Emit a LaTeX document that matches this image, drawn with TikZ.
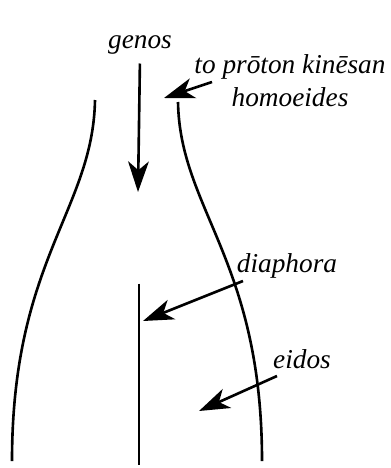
\documentclass[tikz,border=0pt]{standalone}
\usepackage{fontspec}
\setmainfont{Liberation Serif}
\usetikzlibrary{positioning, arrows.meta}

\begin{document}
\begin{tikzpicture}[
x=0.458pt, y=-0.458pt,
label/.style={font=\fontsize{12.5}{15}\selectfont\itshape, align=center, inner sep=1pt},
pointer/.style={-{Stealth[length=14pt, width=9.5pt, inset=4pt]}, line width=1.2pt},
wall/.style={line width=1.2pt}
]
\useasboundingbox (0,0) rectangle (390,468);

% the two outer walls
\draw[wall] (95,100) .. controls (93,210) and (12,260) .. (12,461);
\draw[wall] (178,102) .. controls (180,210) and (262,260) .. (262,461);

% division in the middle
\node[inner sep=0pt] (mtop) at (139,282) {};
\node[inner sep=0pt] (mbot) at (139,467) {};
\draw[line width=1pt] (mtop) -- (mbot);

% labels
\node[label] (genos) at (140,45) {genos};
\node[label] (kinesan) at (290,81) {to prōton kinēsan\\homoeides};
\node[label] (diaphora) at (287,266) {diaphora};
\node[label] (eidos) at (302,359) {eidos};

% arrows
\coordinate (gtip) at (138,192);
\coordinate (ktail) at (212,82);
\coordinate (ktip) at (164,98);
\coordinate (dtail) at (243,281);
\coordinate (dtip) at (143,321);
\coordinate (etail) at (277,376);
\coordinate (etip) at (199,411);

\draw[pointer, shorten <=3pt] (genos.south) -- (gtip);
\draw[pointer] (ktail) -- (ktip);
\draw[pointer] (dtail) -- (dtip);
\draw[pointer] (etail) -- (etip);

\end{tikzpicture}
\end{document}
